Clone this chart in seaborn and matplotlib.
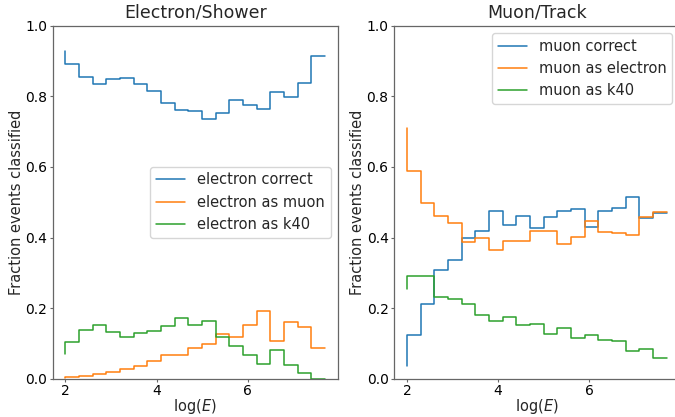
import numpy as np
import pandas as pd
import matplotlib
matplotlib.use("Agg")
import matplotlib.pyplot as plt
import seaborn as sns

# bin positions, log(E)
log_e = [2.0, 2.3, 2.6, 2.9, 3.2, 3.5, 3.8, 4.1, 4.4, 4.7,
         5.0, 5.3, 5.6, 5.9, 6.2, 6.5, 6.8, 7.1, 7.4, 7.7]

electron_correct = [0.929, 0.892, 0.855, 0.835, 0.849, 0.852, 0.835, 0.816, 0.781, 0.760,
                    0.758, 0.736, 0.753, 0.788, 0.775, 0.765, 0.812, 0.799, 0.837, 0.915]
electron_as_muon = [0.003, 0.005, 0.008, 0.014, 0.019, 0.028, 0.036, 0.051, 0.067, 0.069,
                    0.089, 0.099, 0.128, 0.120, 0.154, 0.193, 0.108, 0.162, 0.146, 0.088]
electron_as_k40 = [0.071, 0.105, 0.138, 0.153, 0.132, 0.120, 0.130, 0.136, 0.151, 0.172,
                   0.153, 0.165, 0.120, 0.092, 0.069, 0.042, 0.081, 0.040, 0.018, 0.000]

muon_correct = [0.037, 0.125, 0.212, 0.307, 0.337, 0.400, 0.420, 0.475, 0.436, 0.461,
                0.428, 0.457, 0.474, 0.482, 0.431, 0.475, 0.484, 0.514, 0.456, 0.470]
muon_as_electron = [0.710, 0.588, 0.498, 0.462, 0.441, 0.388, 0.399, 0.364, 0.391, 0.389,
                    0.419, 0.418, 0.383, 0.403, 0.446, 0.417, 0.413, 0.408, 0.458, 0.472]
muon_as_k40 = [0.254, 0.290, 0.292, 0.233, 0.226, 0.212, 0.182, 0.164, 0.174, 0.153,
               0.155, 0.127, 0.145, 0.116, 0.124, 0.110, 0.107, 0.080, 0.086, 0.058]

titles = ["Electron/Shower", "Muon/Track"]
left_labels = ["electron correct", "electron as muon", "electron as k40"]
right_labels = ["muon correct", "muon as electron", "muon as k40"]
colors = ["#1f77b4", "#ff7f0e", "#2ca02c"]

sns.set_theme(style="ticks")
plt.rcParams.update({
    "font.family": ["DejaVu Sans"],
    "axes.edgecolor": "#666666",
    "axes.linewidth": 0.9,
    "xtick.color": "#666666",
    "ytick.color": "#666666",
    "xtick.labelcolor": "black",
    "ytick.labelcolor": "black",
    "xtick.major.size": 2.3,
    "ytick.major.size": 2.3,
    "xtick.major.pad": 1.6,
    "ytick.major.pad": 1.6,
    "xtick.major.width": 0.8,
    "ytick.major.width": 0.8,
    "xtick.labelsize": 10,
    "ytick.labelsize": 10,
})

fig, axes = plt.subplots(1, 2, figsize=(6.75, 4.17), dpi=100)

panels = [
    (axes[0], [electron_correct, electron_as_muon, electron_as_k40], left_labels, "center right"),
    (axes[1], [muon_correct, muon_as_electron, muon_as_k40], right_labels, "upper right"),
]

for i, (ax, series, labels, loc) in enumerate(panels):
    for vals, lab, col in zip(series, labels, colors):
        df = pd.DataFrame({"logE": log_e, "frac": vals})
        sns.lineplot(data=df, x="logE", y="frac", ax=ax, color=col, label=lab,
                     drawstyle="steps-pre", linewidth=1.1, errorbar=None, sort=False)
    ax.set_ylim(0, 1)
    ax.set_xticks([2, 4, 6])
    ax.set_yticks([0.0, 0.2, 0.4, 0.6, 0.8, 1.0])
    ax.set_xlabel(r"log($E$)", fontsize=10.5, labelpad=-1)
    ax.set_ylabel("Fraction events classified", fontsize=10.5, labelpad=1)
    ax.set_title(titles[i], fontsize=12.5)
    ax.legend(loc=loc, fontsize=10.5, frameon=True)

H = 417.0
W = 675.0
axes[0].set_position([52.5 / W, 1 - 379 / H, 285.5 / W, (379 - 25.5) / H])
axes[1].set_position([394.0 / W, 1 - 379 / H, 285.5 / W, (379 - 25.5) / H])

fig.savefig("out.png", dpi=100)
